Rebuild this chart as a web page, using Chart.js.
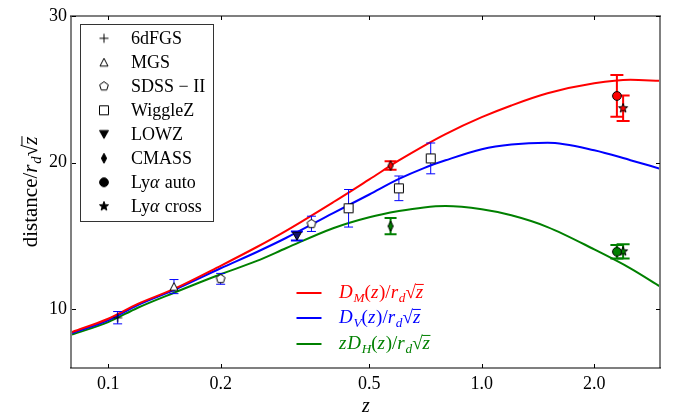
<!DOCTYPE html>
<html>
<head>
<meta charset="utf-8">
<script src="https://cdn.jsdelivr.net/npm/chart.js@4.4.1/dist/chart.umd.min.js"></script>
<style>
  html, body { margin: 0; padding: 0; background: #fff; }
  canvas { display: block; }
</style>
</head>
<body>
<canvas id="bao" width="678" height="415"></canvas>
<script>
// model curves
const curveZ  = [0.08, 0.1, 0.12, 0.15, 0.2, 0.25, 0.3, 0.4, 0.5, 0.6, 0.7, 0.8, 1.0, 1.2, 1.5, 2.0, 2.5, 3.0];
const dmCurve = [8.45, 9.36, 10.37, 11.39, 12.97, 14.25, 15.37, 17.30, 18.86, 20.15, 21.15, 21.95, 23.10, 23.90, 24.73, 25.41, 25.65, 25.58];
const dvCurve = [8.38, 9.25, 10.29, 11.32, 12.80, 13.91, 14.88, 16.56, 17.83, 18.89, 19.63, 20.16, 20.92, 21.24, 21.36, 20.85, 20.17, 19.59];
const dhCurve = [8.28, 9.13, 10.11, 11.13, 12.39, 13.30, 14.18, 15.53, 16.28, 16.70, 16.95, 17.04, 16.82, 16.41, 15.61, 14.09, 12.80, 11.56];

// measurements
const sixdfZ = [0.106], sixdfDV = [9.43], sixdfErr = [0.42];
const mgsZ = [0.15], mgsDV = [11.55], mgsErr = [0.48];
const sdssZ = [0.2, 0.35], sdssDV = [12.08, 15.83], sdssErr = [0.37, 0.52];
const wigZ = [0.44, 0.6, 0.73], wigDV = [16.89, 18.25, 20.29], wigErr = [1.28, 0.84, 1.05];
const lowzZ = [0.32], lowzDV = [15.0], lowzErr = [0.3];
const cmassZ = [0.57], cmassDM = [19.80], cmassDMErr = [0.29], cmassDH = [15.67], cmassDHErr = [0.55];
const autoZ = [2.30], autoDM = [24.55], autoDMErr = [1.42], autoDH = [13.93], autoDHErr = [0.46];
const crossZ = [2.39], crossDM = [23.71], crossDMErr = [0.87], crossDH = [13.95], crossDHErr = [0.49];

const xTicks = [0.1, 0.2, 0.5, 1.0, 2.0];
const xTickLabels = ['0.1', '0.2', '0.5', '1.0', '2.0'];
const yTicks = [10, 20, 30];
const surveyNames = ['6dFGS', 'MGS', 'SDSS \u2212 II', 'WiggleZ', 'LOWZ', 'CMASS', 'Ly\u03b1 auto', 'Ly\u03b1 cross'];

const RED = '#ff0000', BLUE = '#0000ff', GREEN = '#008000';
const SERIF = '"Liberation Serif", "DejaVu Serif", serif';

function marker(kind, fill) {
  const c = document.createElement('canvas');
  c.width = c.height = 14;
  const g = c.getContext('2d');
  g.translate(7, 7);
  g.lineWidth = 1;
  g.strokeStyle = '#000';
  g.fillStyle = fill;
  g.beginPath();
  if (kind === 'plus') {
    g.moveTo(-4.5, 0); g.lineTo(4.5, 0);
    g.moveTo(0, -4.5); g.lineTo(0, 4.5);
    g.stroke();
    return c;
  }
  if (kind === 'tri') {
    g.moveTo(0, -4); g.lineTo(4, 3.8); g.lineTo(-4, 3.8);
  } else if (kind === 'tridown') {
    g.moveTo(0, 4.2); g.lineTo(4.5, -3.8); g.lineTo(-4.5, -3.8);
  } else if (kind === 'pent') {
    for (let i = 0; i < 5; i++) {
      const a = -Math.PI / 2 + i * 2 * Math.PI / 5;
      g.lineTo(4.6 * Math.cos(a), 4.6 * Math.sin(a));
    }
  } else if (kind === 'square') {
    g.rect(-4.5, -4.5, 9, 9);
  } else if (kind === 'thind') {
    g.moveTo(0, -5); g.lineTo(2.6, 0); g.lineTo(0, 5); g.lineTo(-2.6, 0);
  } else if (kind === 'circle') {
    g.arc(0, 0, 4.4, 0, Math.PI * 2);
  } else if (kind === 'star') {
    for (let i = 0; i < 10; i++) {
      const a = -Math.PI / 2 + i * Math.PI / 5;
      const r = i % 2 ? 2 : 4.8;
      g.lineTo(r * Math.cos(a), r * Math.sin(a));
    }
  }
  g.closePath();
  g.fill();
  g.stroke();
  return c;
}

const legendMarks = [
  marker('plus', '#000'), marker('tri', '#fff'), marker('pent', '#fff'), marker('square', '#fff'),
  marker('tridown', '#000'), marker('thind', '#000'), marker('circle', '#000'), marker('star', '#000')
];

function curve(label, vals, color) {
  return {
    label, data: curveZ.map((z, i) => ({x: z, y: vals[i]})),
    showLine: true, borderColor: color, borderWidth: 2, pointRadius: 0,
    cubicInterpolationMode: 'monotone', fill: false, order: 5
  };
}

function points(label, zs, vals, errs, style, errColor, errWidth, cap) {
  return {
    label, data: zs.map((z, i) => ({x: z, y: vals[i]})),
    pointStyle: style, pointRadius: 6, showLine: false,
    errs, errColor, errWidth, cap, order: 1
  };
}

// error bars go under each dataset's markers
const errorBars = {
  id: 'errorBars',
  beforeDatasetDraw(chart, args) {
    const ds = chart.data.datasets[args.index];
    if (!ds.errs) return;
    const sx = chart.scales.x, sy = chart.scales.y;
    const ctx = chart.ctx;
    ctx.save();
    ctx.strokeStyle = ds.errColor;
    ctx.lineWidth = ds.errWidth;
    ds.data.forEach((p, i) => {
      const px = sx.getPixelForValue(p.x);
      const top = sy.getPixelForValue(p.y + ds.errs[i]);
      const bot = sy.getPixelForValue(p.y - ds.errs[i]);
      ctx.beginPath();
      ctx.moveTo(px, top); ctx.lineTo(px, bot);
      ctx.moveTo(px - ds.cap, top); ctx.lineTo(px + ds.cap, top);
      ctx.moveTo(px - ds.cap, bot); ctx.lineTo(px + ds.cap, bot);
      ctx.stroke();
    });
    ctx.restore();
  }
};

// text with italic / subscript / sqrt pieces
function richFont(st, size) {
  const it = st === 'i' || st === 's';
  const sz = st === 's' ? size * 0.7 : size;
  return (it ? 'italic ' : '') + sz + 'px ' + SERIF;
}

function drawRich(ctx, x, y, parts, size, measureOnly) {
  let cx = x;
  for (const [t, st] of parts) {
    if (st === 'r') {
      ctx.font = size + 'px ' + SERIF;
      const rw = ctx.measureText('\u221a').width;
      if (!measureOnly) ctx.fillText('\u221a', cx, y);
      cx += rw;
      ctx.font = richFont('i', size);
      const w = ctx.measureText(t).width;
      if (!measureOnly) {
        ctx.fillText(t, cx, y);
        ctx.fillRect(cx - 0.5, y - size * 0.74, w + 1, 1);
      }
      cx += w;
      continue;
    }
    ctx.font = richFont(st, size);
    const w = ctx.measureText(t).width;
    if (!measureOnly) ctx.fillText(t, cx, st === 's' ? y + size * 0.2 : y);
    cx += w + (st === 'i' ? size * 0.04 : 0);
  }
  return cx - x;
}

const lineLabels = [
  [['D', 'i'], ['M', 's'], ['(', ''], ['z', 'i'], [')/', ''], ['r', 'i'], ['d', 's'], ['z', 'r']],
  [['D', 'i'], ['V', 's'], ['(', ''], ['z', 'i'], [')/', ''], ['r', 'i'], ['d', 's'], ['z', 'r']],
  [['z', 'i'], ['D', 'i'], ['H', 's'], ['(', ''], ['z', 'i'], [')/', ''], ['r', 'i'], ['d', 's'], ['z', 'r']]
];
const lineColors = [RED, BLUE, GREEN];
const yTitle = [['distance/', ''], ['r', 'i'], ['d', 's'], ['z', 'r']];

const frame = {
  id: 'frame',
  afterDraw(chart) {
    const ctx = chart.ctx;
    const a = chart.chartArea;
    const sx = chart.scales.x, sy = chart.scales.y;
    ctx.save();
    // spines
    ctx.strokeStyle = '#808080';
    ctx.lineWidth = 2;
    ctx.beginPath();
    ctx.moveTo(a.left - 1, a.top); ctx.lineTo(a.left - 1, a.bottom);
    ctx.moveTo(a.right, a.top); ctx.lineTo(a.right, a.bottom);
    ctx.stroke();
    ctx.strokeStyle = '#000';
    ctx.lineWidth = 1.2;
    ctx.beginPath();
    ctx.moveTo(a.left - 2, a.top); ctx.lineTo(a.right + 1, a.top);
    ctx.moveTo(a.left - 2, a.bottom); ctx.lineTo(a.right + 1, a.bottom);
    ctx.stroke();
    // inward ticks
    ctx.lineWidth = 1;
    ctx.beginPath();
    xTicks.forEach(v => {
      const px = Math.round(sx.getPixelForValue(v)) + 0.5;
      ctx.moveTo(px, a.bottom); ctx.lineTo(px, a.bottom - 4);
      ctx.moveTo(px, a.top); ctx.lineTo(px, a.top + 4);
    });
    yTicks.forEach(v => {
      const py = Math.round(sy.getPixelForValue(v)) + 0.5;
      ctx.moveTo(a.left, py); ctx.lineTo(a.left + 4, py);
      ctx.moveTo(a.right, py); ctx.lineTo(a.right - 4, py);
    });
    ctx.stroke();

    // survey legend
    ctx.fillStyle = '#fff';
    ctx.fillRect(80.5, 24.5, 133, 197);
    ctx.strokeStyle = '#333';
    ctx.strokeRect(80.5, 24.5, 133, 197);
    ctx.fillStyle = '#000';
    ctx.textBaseline = 'alphabetic';
    surveyNames.forEach((name, i) => {
      const ry = 38.3 + 24 * i;
      ctx.drawImage(legendMarks[i], 104 - 7, ry - 7);
      const parts = name.includes('\u03b1')
        ? [[name.split('\u03b1')[0], ''], ['\u03b1', 'i'], [name.split('\u03b1')[1], '']]
        : [[name, '']];
      drawRich(ctx, 131, ry + 6, parts, 18);
    });

    // curve legend
    lineLabels.forEach((parts, i) => {
      const ry = [293, 318, 344][i];
      ctx.strokeStyle = lineColors[i];
      ctx.lineWidth = 2;
      ctx.beginPath();
      ctx.moveTo(296.5, ry); ctx.lineTo(321.5, ry);
      ctx.stroke();
      ctx.fillStyle = lineColors[i];
      drawRich(ctx, 339, ry + 5, parts, 19);
    });

    // axis titles
    ctx.fillStyle = '#000';
    ctx.font = 'italic 20px ' + SERIF;
    ctx.textAlign = 'center';
    ctx.fillText('z', (a.left + a.right) / 2, 412);
    ctx.textAlign = 'left';
    ctx.translate(37, (a.top + a.bottom) / 2);
    ctx.rotate(-Math.PI / 2);
    const w = drawRich(ctx, 0, 0, yTitle, 21, true);
    drawRich(ctx, -w / 2, 0, yTitle, 21);
    ctx.restore();
  }
};

Chart.defaults.color = '#000';
Chart.defaults.font.family = SERIF;

new Chart(document.getElementById('bao'), {
  type: 'scatter',
  data: {
    datasets: [
      curve('DM', dmCurve, RED),
      curve('DV', dvCurve, BLUE),
      curve('DH', dhCurve, GREEN),
      points('6dFGS', sixdfZ, sixdfDV, sixdfErr, marker('plus', '#000'), BLUE, 1, 4.5),
      points('MGS', mgsZ, mgsDV, mgsErr, marker('tri', '#fff'), BLUE, 1, 4.5),
      points('SDSS-II', sdssZ, sdssDV, sdssErr, marker('pent', '#fff'), BLUE, 1, 4.5),
      points('WiggleZ', wigZ, wigDV, wigErr, marker('square', '#fff'), BLUE, 1, 4.5),
      points('LOWZ', lowzZ, lowzDV, lowzErr, marker('tridown', '#101070'), BLUE, 2, 6),
      points('CMASS DM', cmassZ, cmassDM, cmassDMErr, marker('thind', RED), RED, 2, 6),
      points('CMASS DH', cmassZ, cmassDH, cmassDHErr, marker('thind', GREEN), GREEN, 2, 6),
      points('auto DM', autoZ, autoDM, autoDMErr, marker('circle', RED), RED, 2, 6.5),
      points('auto DH', autoZ, autoDH, autoDHErr, marker('circle', GREEN), GREEN, 2, 6.5),
      points('cross DM', crossZ, crossDM, crossDMErr, marker('star', RED), RED, 2, 6.5),
      points('cross DH', crossZ, crossDH, crossDHErr, marker('star', GREEN), GREEN, 2, 6.5)
    ]
  },
  options: {
    responsive: false,
    animation: false,
    events: [],
    layout: { padding: { top: 16, right: 18, left: 0, bottom: 0 } },
    plugins: { legend: { display: false }, tooltip: { enabled: false } },
    scales: {
      x: {
        type: 'logarithmic', min: 0.08, max: 3.0, bounds: 'data',
        afterBuildTicks: s => { s.ticks = xTicks.map(v => ({value: v})); },
        afterFit: s => { s.height = 47; },
        ticks: {
          callback: (v, i) => xTickLabels[i],
          font: { size: 18, family: SERIF }, color: '#000',
          padding: 5, maxRotation: 0, autoSkip: false
        },
        grid: { display: false, drawTicks: false },
        border: { display: false }
      },
      y: {
        type: 'linear', min: 6, max: 30, bounds: 'data',
        afterBuildTicks: s => { s.ticks = yTicks.map(v => ({value: v})); },
        afterFit: s => { s.width = 72; },
        ticks: { font: { size: 18, family: SERIF }, color: '#000', padding: 5 },
        grid: { display: false, drawTicks: false },
        border: { display: false }
      }
    }
  },
  plugins: [errorBars, frame]
});
</script>
</body>
</html>
